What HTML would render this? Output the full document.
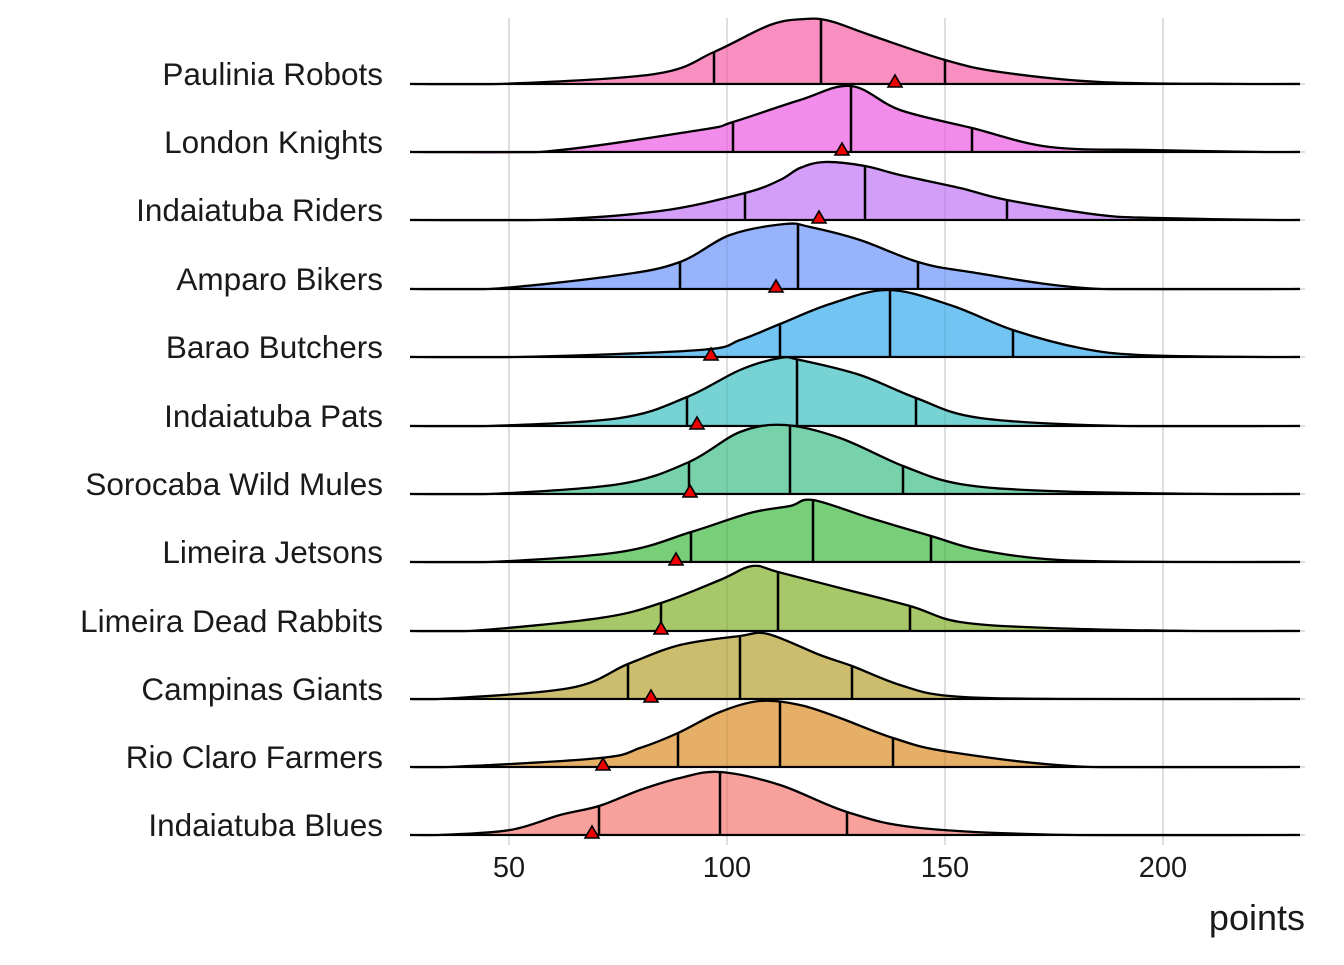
<!DOCTYPE html>
<html><head><meta charset="utf-8"><style>
body{margin:0;background:#fff}
svg text{font-family:"Liberation Sans",sans-serif;fill:#1a1a1a}
</style></head><body>
<svg id="s" width="1344" height="960" xmlns="http://www.w3.org/2000/svg">
<g stroke="#dedede" stroke-width="2">
<line x1="509" y1="18" x2="509" y2="845"/><line x1="727" y1="18" x2="727" y2="845"/>
<line x1="945" y1="18" x2="945" y2="845"/><line x1="1163" y1="18" x2="1163" y2="845"/>
</g>
<g id="ridges"></g>
<g font-size="29" text-anchor="middle">
<text x="509" y="877">50</text><text x="727" y="877">100</text><text x="945" y="877">150</text><text x="1163" y="877">200</text>
</g>
<text x="1305" y="930" font-size="36" text-anchor="end">points</text>
</svg>
<script>
const R=[
["Paulinia Robots",84,"#F98EC1",[[560,84],[655,74],[714,52],[770,25],[805,19],[830,21],[870,35],[945,60],[1000,72],[1100,82],[1180,84]],[714,821,945],[895,82]],
["London Knights",152,"#F28CEA",[[600,152],[700,130],[733,122],[800,100],[851,86],[900,110],[972,128],[1050,147],[1150,150],[1200,152]],[733,851,972],[842,150]],
["Indaiatuba Riders",220,"#D39EF8",[[600,220],[660,211],[745,193],[780,180],[800,168],[825,162],[865,166],[900,175],[960,188],[1007,200],[1100,215],[1160,218],[1210,220]],[745,865,1007],[819,218]],
["Amparo Bikers",289,"#97B3FB",[[550,289],[620,275],[680,262],[730,235],[785,224],[810,227],[860,240],[918,262],[970,272],[1040,289]],[680,798,918],[776,287]],
["Barao Butchers",357,"#72C4F3",[[580,357],[700,350],[740,340],[780,324],[830,304],[888,290],[950,305],[1013,330],[1080,348],[1140,355],[1200,357]],[780,890,1013],[711,355]],
["Indaiatuba Pats",426,"#76D2D3",[[550,426],[620,418],[687,397],[740,370],[780,358],[800,360],[860,375],[916,398],[980,418],[1060,426]],[687,797,916],[697,424]],
["Sorocaba Wild Mules",494,"#77D1AB",[[550,494],[620,484],[689,462],[740,432],[785,425],[840,438],[903,466],[960,484],[1050,491],[1150,494]],[689,790,903],[690,492]],
["Limeira Jetsons",562,"#79CE7A",[[550,562],[620,552],[691,532],[750,513],[790,506],[813,500],[870,518],[931,536],[980,550],[1060,560],[1130,562]],[691,813,931],[676,560]],
["Limeira Dead Rabbits",631,"#A7C868",[[530,631],[600,618],[661,603],[720,580],[752,566],[778,572],[840,588],[910,606],[960,622],[1050,628],[1130,631]],[661,778,910],[661,629]],
["Campinas Giants",699,"#CCBD6E",[[500,699],[570,688],[628,664],[680,645],[740,636],[768,634],[820,655],[852,666],[900,685],[950,696],[1000,699]],[628,740,852],[651,697]],
["Rio Claro Farmers",767,"#E5AF68",[[510,767],[600,758],[640,748],[678,733],[720,712],[760,701],[800,705],[840,718],[893,738],[950,752],[1030,767]],[678,780,893],[603,765]],
["Indaiatuba Blues",835,"#F8A09B",[[430,835],[510,830],[560,815],[599,806],[640,790],[680,778],[720,772],[780,785],[847,812],[920,828],[1010,835]],[599,720,847],[592,833]]
];
function smooth(p){let d="";for(let i=0;i<p.length-1;i++){const p0=p[Math.max(0,i-1)],p1=p[i],p2=p[i+1],p3=p[Math.min(p.length-1,i+2)];
const c1=[p1[0]+(p2[0]-p0[0])/6,p1[1]+(p2[1]-p0[1])/6],c2=[p2[0]-(p3[0]-p1[0])/6,p2[1]-(p3[1]-p1[1])/6];
d+=` C${c1[0]},${c1[1]} ${c2[0]},${c2[1]} ${p2[0]},${p2[1]}`;}return d;}
let h="";R.forEach((r,i)=>{const [n,b,c,pts0,q,t]=r;
const x0=Math.max(pts0[0][0]-60,440), x1=Math.min(pts0[pts0.length-1][0]+60,1270);
const pts=[[410,b],[x0,b],...pts0.slice(1,-1),[x1,b],[1300,b]];
const curve=`M410,${b}`+smooth(pts);
h+=`<line x1="410" y1="${b}" x2="1305" y2="${b}" stroke="#dedede" stroke-width="2"/>`;
h+=`<clipPath id="c${i}"><path d="${curve} Z"/></clipPath>`;
h+=`<clipPath id="k${i}"><rect x="0" y="0" width="1344" height="${b+1.2}"/></clipPath>`;
h+=`<path d="${curve} Z" fill="${c}"/>`;
h+=`<g clip-path="url(#c${i})"><g stroke="#000" stroke-opacity="0.06" stroke-width="2"><line x1="509" y1="0" x2="509" y2="900"/><line x1="727" y1="0" x2="727" y2="900"/><line x1="945" y1="0" x2="945" y2="900"/><line x1="1163" y1="0" x2="1163" y2="900"/></g><g stroke="#000" stroke-width="2.5">`+q.map(x=>`<line x1="${x}" y1="${b}" x2="${x}" y2="${b-90}"/>`).join("")+`</g></g>`;
h+=`<g clip-path="url(#k${i})"><path d="${curve}" fill="none" stroke="#000" stroke-width="2.3"/><line x1="410" y1="${b}" x2="1300" y2="${b}" stroke="#000" stroke-width="2.3"/></g>`;
h+=`<path d="M${t[0]-7},${t[1]+5} L${t[0]+7},${t[1]+5} L${t[0]},${t[1]-7} Z" fill="#e00" stroke="#000" stroke-width="1.6"/>`;
h+=`<text x="383" y="${b+1}" font-size="31.5" text-anchor="end">${n}</text>`;});
document.getElementById("ridges").innerHTML=h;
</script>
</body></html>
